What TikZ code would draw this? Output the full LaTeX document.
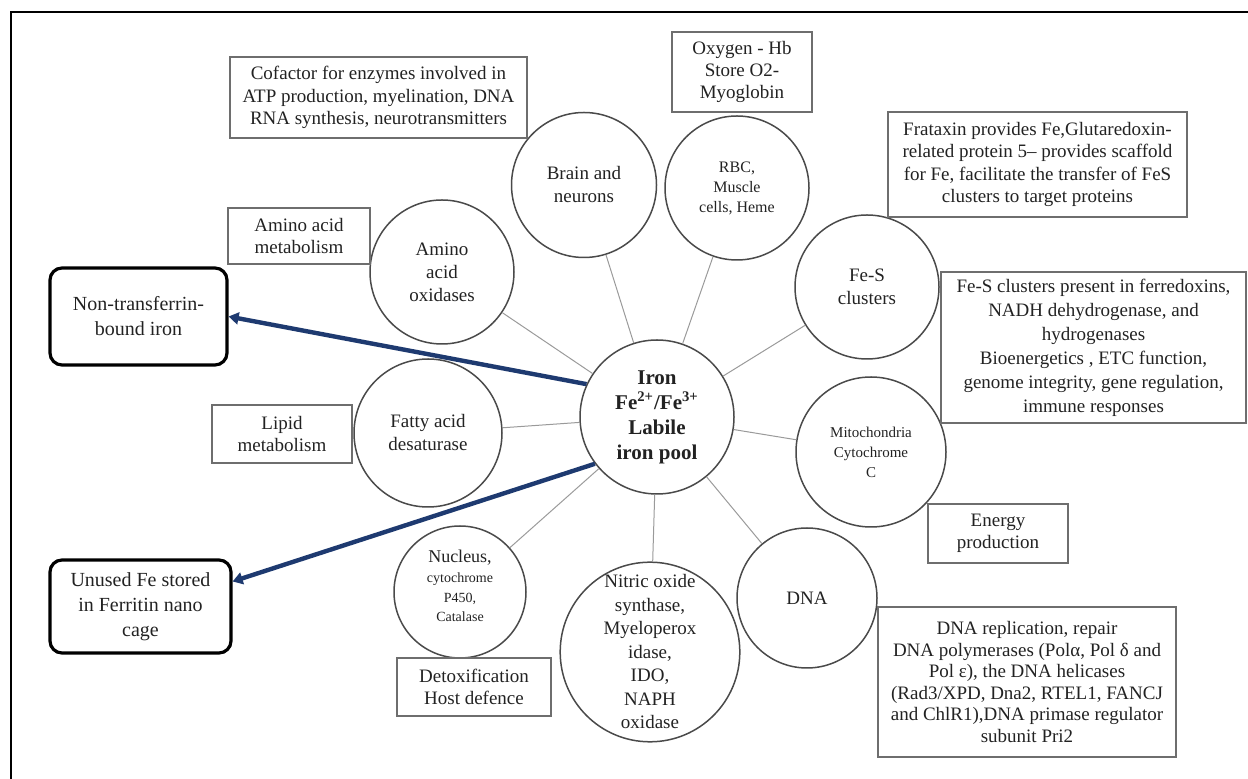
\documentclass[tikz,border=0pt]{standalone}
\usepackage{fontspec}
\setmainfont{Liberation Serif}
\usetikzlibrary{arrows.meta,calc}
\definecolor{ringcol}{HTML}{4A4A4A}
\definecolor{boxcol}{HTML}{6E6E6E}
\definecolor{spokecol}{HTML}{9A9A9A}
\definecolor{arrowblue}{HTML}{1E3A70}
\definecolor{txtcol}{HTML}{222222}

\begin{document}
\begin{tikzpicture}[x=0.5pt,y=-0.5pt,
  ring/.style={circle, draw=ringcol, line width=0.75pt, inner sep=0pt, align=center,
    text=txtcol, font=\fontsize{9.5}{11.5}\selectfont},
  infobox/.style={rectangle, draw=boxcol, line width=0.7pt, inner sep=0pt, align=center,
    text=txtcol, font=\fontsize{9.5}{11.2}\selectfont},
  poolbox/.style={rectangle, rounded corners=6pt, draw=black, line width=1.6pt, inner sep=0pt,
    align=center, text=txtcol, font=\fontsize{10}{12.5}\selectfont},
  spoke/.style={draw=spokecol, line width=0.5pt},
  flow/.style={draw=arrowblue, line width=2.2pt, -{Triangle[length=5pt,width=6pt]}}
]
\useasboundingbox (0,0) rectangle (1248,779);
% page frame
\draw[line width=1pt] (11,779) -- (11,12) -- (1248,12);

% central labile iron pool
\node[ring, minimum size=77pt, font=\bfseries\fontsize{10.5}{12.5}\selectfont] (iron) at (657,417)
  {Iron\\Fe\textsuperscript{2+}/Fe\textsuperscript{3+}\\Labile\\iron pool};

% surrounding iron-dependent sites
\node[ring, minimum size=72pt] (amino) at (442,272) {Amino\\acid\\oxidases};
\node[ring, minimum size=72.5pt] (brain) at (584,185) {Brain and\\neurons};
\node[ring, minimum size=72pt, font=\fontsize{8}{10}\selectfont] (rbc) at (737,188) {RBC,\\Muscle\\cells, Heme};
\node[ring, minimum size=72pt] (fes) at (867,287) {Fe-S\\clusters};
\node[ring, minimum size=75pt, font=\fontsize{7.5}{10}\selectfont] (mito) at (871,452) {Mitochondria\\Cytochrome\\C};
\node[ring, minimum size=70pt] (dna) at (807,598) {DNA};
\node[ring, minimum size=85pt, font=\fontsize{9.5}{11.75}\selectfont] (nos) at (650,652)
  {Nitric oxide\\synthase,\\Myeloperox\\idase,\\IDO,\\NAPH\\oxidase};
\node[ring, minimum size=66pt, font=\fontsize{7}{9.8}\selectfont] (nucleus) at (460,592)
  {{\fontsize{9}{11}\selectfont Nucleus,}\\cytochrome\\P450,\\Catalase\\[-3.8pt]\mbox{}};
\node[ring, minimum size=74pt] (fatty) at (428,433) {Fatty acid\\desaturase};

% function boxes
\node[infobox, minimum width=148.5pt, minimum height=40.5pt] (cof) at (378.5,97.5)
  {Cofactor for enzymes involved in\\ATP production, myelination, DNA\\RNA synthesis, neurotransmitters};
\node[infobox, minimum width=70pt, minimum height=40pt] (oxy) at (742,72)
  {Oxygen - Hb\\Store O2-\\Myoglobin};
\node[infobox, minimum width=149.5pt, minimum height=52.5pt] (frat) at (1037.5,164.5)
  {Frataxin provides Fe,Glutaredoxin-\\related protein 5– provides scaffold\\for Fe, facilitate the transfer of FeS\\clusters to target proteins};
\node[infobox, minimum width=71pt, minimum height=28pt] (aam) at (299,236)
  {Amino acid\\metabolism};
\node[infobox, minimum width=70pt, minimum height=29pt] (lipid) at (282,434)
  {Lipid\\metabolism};
\node[infobox, minimum width=152.5pt, minimum height=75.5pt, font=\fontsize{9.5}{12}\selectfont] (fesbox) at (1093.5,347.5)
  {Fe-S clusters present in ferredoxins,\\NADH dehydrogenase, and\\hydrogenases\\Bioenergetics , ETC function,\\genome integrity, gene regulation,\\immune responses};
\node[infobox, minimum width=70pt, minimum height=29.5pt] (energy) at (998,533.5)
  {Energy\\production};
\node[infobox, minimum width=149pt, minimum height=75pt, font=\fontsize{9.5}{10.8}\selectfont] (dnabox) at (1027,682)
  {DNA replication, repair\\DNA polymerases (Polα, Pol δ and\\Pol ε), the DNA helicases\\(Rad3/XPD, Dna2, RTEL1, FANCJ\\and ChlR1),DNA primase regulator\\subunit Pri2};
\node[infobox, minimum width=77pt, minimum height=29pt] (detox) at (474,687)
  {Detoxification\\Host defence};

% iron pools leaving the labile pool
\node[poolbox, minimum width=88.5pt, minimum height=48.5pt] (ntbi) at (138.5,316.5)
  {Non-transferrin-\\bound iron};
\node[poolbox, minimum width=90.5pt, minimum height=46.5pt] (unused) at (140.5,606.5)
  {Unused Fe stored\\in Ferritin nano\\cage};

% spokes from the labile pool
\foreach \s in {amino,brain,rbc,fes,mito,dna,nos,nucleus,fatty}
  \draw[spoke] (iron) -- (\s);

% flows out of the pool
\draw[flow] (iron.155) -- (ntbi.east);
\draw[flow] (iron.217) -- ($(unused.north east)!0.24!(unused.south east)$);
\end{tikzpicture}
\end{document}
